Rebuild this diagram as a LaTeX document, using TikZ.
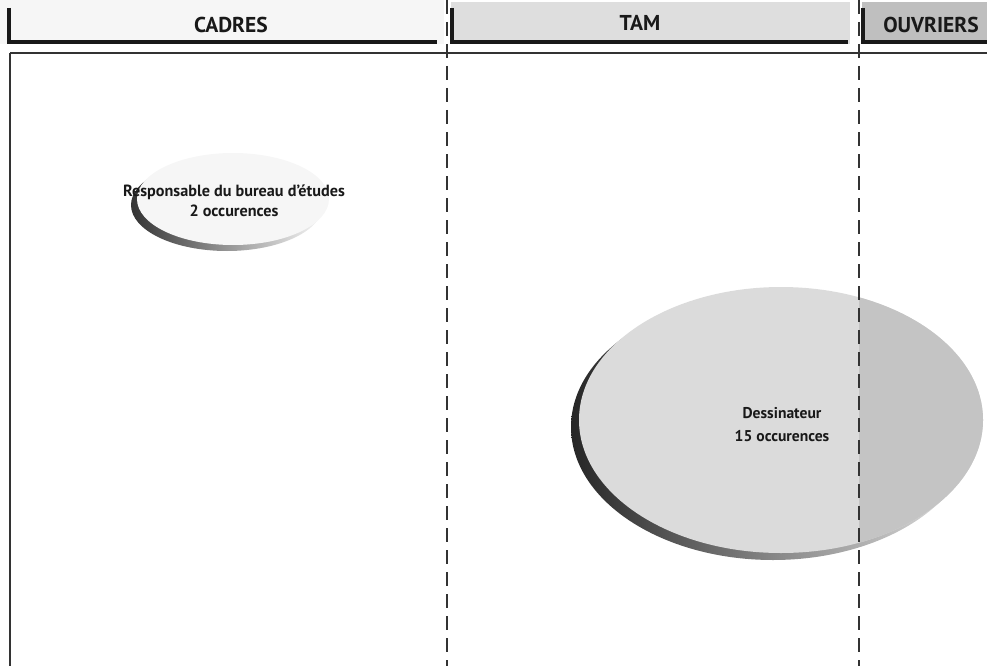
\documentclass[tikz,border=0pt]{standalone}
\usepackage{fontspec}
\setmainfont{PT Sans}
\usetikzlibrary{shapes.geometric}
\definecolor{hdrA}{gray}{0.965}
\definecolor{hdrB}{gray}{0.87}
\definecolor{hdrC}{gray}{0.75}
\definecolor{discA}{gray}{0.965}
\definecolor{discB}{gray}{0.86}
\definecolor{discBdark}{gray}{0.77}
\tikzset{
  hdrtext/.style={font=\bfseries\fontsize{21.5}{24}\selectfont, inner sep=0pt, text=black!90},
  hdrbar/.style={line width=3.4pt, draw=black!90},
  colsep/.style={line width=1.3pt, draw=black!80, dash pattern=on 14pt off 8pt},
  frameline/.style={line width=1.2pt, draw=black!80},
  smalllabel/.style={font=\bfseries\fontsize{16.2}{19.5}\selectfont, align=center, inner sep=0pt, text=black!90},
  biglabel/.style={font=\bfseries\fontsize{15.6}{23}\selectfont, align=center, inner sep=0pt, text=black!90},
}
\begin{document}
\begin{tikzpicture}[x=1pt,y=-1pt]
\useasboundingbox (0,0) rectangle (987,666);

% header bands
\fill[hdrA] (0,0) rectangle (444,44);
\fill[hdrB] (451,2) rectangle (850,44);
\fill[hdrC] (862,2) rectangle (987,44);
\draw[hdrbar] (9,8) -- (9,42) -- (437,42);
\draw[hdrbar] (452,8) -- (452,42) -- (848,42);
\draw[hdrbar] (863,8) -- (863,42) -- (987,42);
\node[hdrtext] (cadres) at (231,25) {CADRES};
\node[hdrtext] (tam) at (640,23) {TAM};
\node[hdrtext] (ouvriers) at (931,25) {OUVRIERS};

% frame: top rule and left border
\coordinate (tl) at (10,53);
\coordinate (tr) at (987,53);
\coordinate (bl) at (10,666);
\draw[frameline] (tl) -- (tr);
\draw[frameline] (tl) -- (bl);

% small disc: Responsable du bureau d'etudes
\shade[left color=black!80, right color=black!3] (227,205) ellipse [x radius=96, y radius=46];
\fill[discA] (233,199) ellipse [x radius=96, y radius=46];
\node[smalllabel] (resp) at (234,201) {Responsable du bureau d'études\\2 occurences};

% large disc: Dessinateur
\shade[left color=black!85, right color=black!10] (773,427) ellipse [x radius=202, y radius=133];
\fill[discB] (781,420) ellipse [x radius=202, y radius=133];
\begin{scope}
  \clip (859,250) rectangle (990,600);
  \fill[discBdark] (781,420) ellipse [x radius=202, y radius=133];
\end{scope}
\node[biglabel] (dess) at (782,425) {Dessinateur\\15 occurences};

% column separators
\coordinate (s1t) at (447,0);
\coordinate (s1b) at (447,666);
\coordinate (s2t) at (859,0);
\coordinate (s2b) at (859,666);
\draw[colsep] (s1t) -- (s1b);
\draw[colsep] (s2t) -- (s2b);
\end{tikzpicture}
\end{document}
